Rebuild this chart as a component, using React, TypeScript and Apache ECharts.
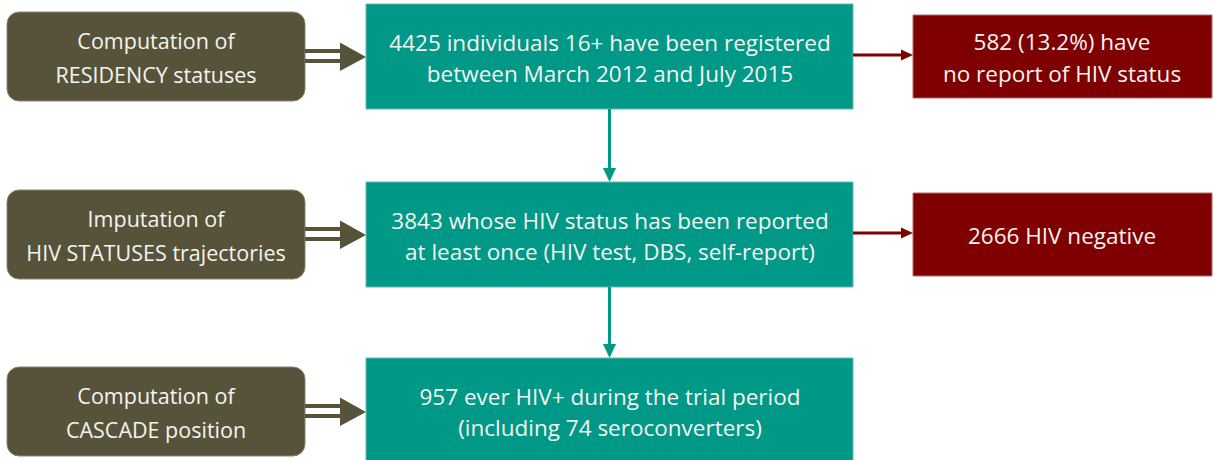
import React, { useEffect, useRef } from "react";
import * as echarts from "echarts";

// ---- content ----
const leftLabels: string[][] = [
  ["Computation of", "RESIDENCY statuses"],
  ["Imputation of", "HIV STATUSES trajectories"],
  ["Computation of", "CASCADE position"],
];
const centerLabels: string[][] = [
  ["4425 individuals 16+ have been registered", "between March 2012 and July 2015"],
  ["3843 whose HIV status has been reported", "at least once (HIV test, DBS, self-report)"],
  ["957 ever HIV+ during the trial period", "(including 74 seroconverters)"],
];
const rightLabels: string[][] = [
  ["582 (13.2%) have", "no report of HIV status"],
  ["2666 HIV negative"],
];

// ---- style ----
const OLIVE = "#57533a";
const TEAL = "#009887";
const RED = "#7f0000";
const TXT = "#f4f4f0";
const FONT_FAMILY = "'Open Sans', Lato, sans-serif";

export default function App() {
  const ref = useRef<HTMLDivElement>(null);
  useEffect(() => {
    if (!ref.current) return;
    const chart = echarts.init(ref.current, null, { renderer: "svg" });
    const rowCenters = [56, 234, 411];
    const els: any[] = [];

    const text = (lines: string[], cx: number, cy: number, lh: number, fs: number) => ({
      type: "text",
      x: cx,
      y: cy,
      z: 10,
      style: {
        text: lines.join("\n"),
        align: "center",
        verticalAlign: "middle",
        fill: TXT,
        fontFamily: FONT_FAMILY,
        fontSize: fs,
        lineHeight: lh,
      },
    });

    // left rounded boxes + double arrows
    leftLabels.forEach((lines, i) => {
      const cy = rowCenters[i];
      els.push({
        type: "rect",
        shape: { x: 7, y: cy - 44, width: 298, height: 89, r: 12 },
        style: { fill: OLIVE, stroke: "#8a876f", lineWidth: 1 },
      });
      els.push(text(lines, 156, cy + 1, 34, 21.5));
      // double shaft
      els.push({
        type: "line",
        shape: { x1: 305, y1: cy - 5, x2: 344, y2: cy - 5 },
        style: { stroke: OLIVE, lineWidth: 4 },
      });
      els.push({
        type: "line",
        shape: { x1: 305, y1: cy + 5, x2: 344, y2: cy + 5 },
        style: { stroke: OLIVE, lineWidth: 4 },
      });
      els.push({
        type: "polygon",
        shape: { points: [[340, cy - 13.5], [366, cy + 1], [340, cy + 15]] },
        style: { fill: OLIVE },
      });
    });

    // center teal boxes
    const tealTops = [4, 182, 358];
    centerLabels.forEach((lines, i) => {
      const top = tealTops[i];
      els.push({
        type: "rect",
        shape: { x: 366, y: top, width: 487, height: 105 },
        style: { fill: TEAL, stroke: "#5fbcb1", lineWidth: 1 },
      });
      els.push(text(lines, 610, top + 54, 31, 22.5));
    });

    // down arrows
    [[109, 182], [287, 358]].forEach(([y1, y2]) => {
      els.push({
        type: "line",
        shape: { x1: 609.5, y1, x2: 609.5, y2: y2 - 12 },
        style: { stroke: TEAL, lineWidth: 3 },
      });
      els.push({
        type: "polygon",
        shape: { points: [[603, y2 - 14], [616, y2 - 14], [609.5, y2]] },
        style: { fill: TEAL },
      });
    });

    // right red boxes + arrows
    const redBoxes = [
      { top: 15, bottom: 98, cy: 55 },
      { top: 193, bottom: 276, cy: 233 },
    ];
    rightLabels.forEach((lines, i) => {
      const b = redBoxes[i];
      els.push({
        type: "rect",
        shape: { x: 913, y: b.top, width: 299, height: b.bottom - b.top },
        style: { fill: RED, stroke: "#b36a6a", lineWidth: 1 },
      });
      els.push(text(lines, 1062, (b.top + b.bottom) / 2 + 1, 32, 22.5));
      els.push({
        type: "line",
        shape: { x1: 853, y1: b.cy, x2: 904, y2: b.cy },
        style: { stroke: RED, lineWidth: 3 },
      });
      els.push({
        type: "polygon",
        shape: { points: [[901, b.cy - 5.5], [913, b.cy], [901, b.cy + 5.5]] },
        style: { fill: RED },
      });
    });

    chart.setOption({
      animation: false,
      backgroundColor: "#ffffff",
      graphic: { elements: els },
    });
    return () => chart.dispose();
  }, []);

  return (
    <div
      ref={ref}
      style={{ position: "fixed", left: 0, top: 0, width: 1214, height: 460 }}
    />
  );
}
